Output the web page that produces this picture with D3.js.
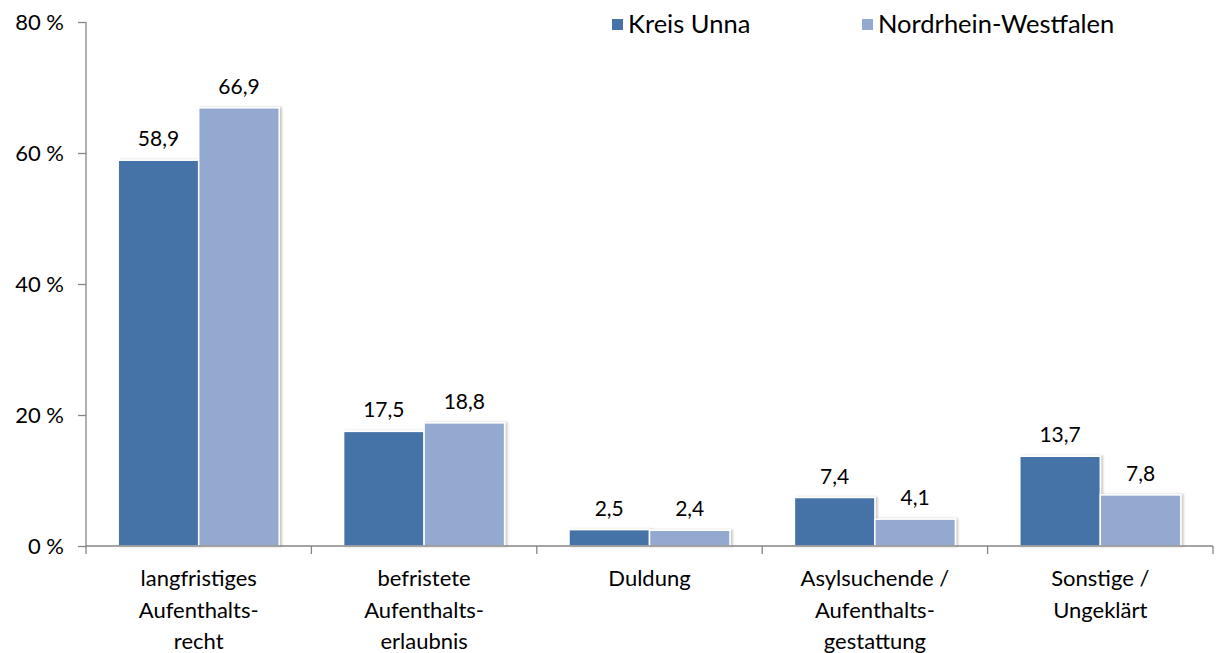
<!DOCTYPE html>
<meta charset="utf-8">
<style>
body { margin: 0; background: #fff; }
text { font-family: Lato, "Open Sans", sans-serif; fill: #000; }
.axis path, .axis line { stroke: #868686; stroke-width: 1.3; }
</style>
<svg width="1219" height="653"></svg>
<script src="https://cdn.jsdelivr.net/npm/d3@7"></script>
<script>

var categories = [
  ["langfristiges", "Aufenthalts-", "recht"],
  ["befristete", "Aufenthalts-", "erlaubnis"],
  ["Duldung"],
  ["Asylsuchende /", "Aufenthalts-", "gestattung"],
  ["Sonstige /", "Ungeklärt"]
];
var series = ["Kreis Unna", "Nordrhein-Westfalen"];
var unna = [58.9, 17.5, 2.5, 7.4, 13.7];
var nrw = [66.9, 18.8, 2.4, 4.1, 7.8];
var yTicks = [0, 20, 40, 60, 80];
var colors = ["#4572a7", "#94a9cf"];

var svg = d3.select("svg");
var mLeft = 86, mRight = 1213, mTop = 22, mBottom = 546;

var defs = svg.append("defs");
var f = defs.append("filter").attr("id", "shadow")
    .attr("x", "-10%").attr("y", "-10%").attr("width", "130%").attr("height", "130%");
f.append("feDropShadow").attr("dx", 2).attr("dy", 0).attr("stdDeviation", 1.2)
    .attr("flood-color", "#000").attr("flood-opacity", 0.22);

var x0 = d3.scaleBand()
    .domain(d3.range(categories.length))
    .range([mLeft, mRight]);

var x1 = d3.scaleBand()
    .domain([0, 1])
    .range([0, x0.bandwidth()])
    .paddingInner(0)
    .paddingOuter(0.4);

var y = d3.scaleLinear().domain([0, 80]).range([mBottom, mTop]);

// y axis
var yAxis = svg.append("g")
    .attr("class", "axis")
    .attr("transform", "translate(" + mLeft + ",0)")
    .call(d3.axisLeft(y).tickValues(yTicks).tickSize(8).tickPadding(14)
      .tickFormat(function(d) { return d + " %"; }));
yAxis.select(".domain").attr("d", "M0," + mTop + "V" + mBottom);
yAxis.selectAll("text").attr("fill", "#000").attr("font-family", null).attr("font-size", null)
    .style("font-size", "22px");

// bars
var data = [];
categories.forEach(function(c, i) {
  data.push({ cat: i, s: 0, v: unna[i] });
  data.push({ cat: i, s: 1, v: nrw[i] });
});

var g = svg.append("g");
g.selectAll("rect")
    .data(data)
  .enter().append("rect")
    .attr("x", function(d) { return x0(d.cat) + x1(d.s); })
    .attr("y", function(d) { return y(d.v); })
    .attr("width", x1.bandwidth())
    .attr("height", function(d) { return y(0) - y(d.v); })
    .attr("fill", function(d) { return colors[d.s]; })
    .attr("stroke", "#fff")
    .attr("stroke-width", 1.5)
    .attr("filter", "url(#shadow)");

g.selectAll("text.val")
    .data(data)
  .enter().append("text")
    .attr("class", "val")
    .attr("x", function(d) { return x0(d.cat) + x1(d.s) + x1.bandwidth() / 2; })
    .attr("y", function(d) { return y(d.v) - 14; })
    .attr("text-anchor", "middle")
    .style("font-size", "21px")
    .text(function(d) { return d3.format(".1f")(d.v).replace(".", ","); });

// x axis
var xAxis = svg.append("g")
    .attr("class", "axis")
    .attr("transform", "translate(0," + mBottom + ")");
xAxis.append("line").attr("x1", mLeft).attr("x2", mRight);
xAxis.selectAll("line.tick")
    .data(d3.range(categories.length + 1))
  .enter().append("line")
    .attr("class", "tick")
    .attr("x1", function(i) { return mLeft + i * x0.step(); })
    .attr("x2", function(i) { return mLeft + i * x0.step(); })
    .attr("y1", 0).attr("y2", 8);

var labels = svg.append("g").selectAll("text")
    .data(categories)
  .enter().append("text")
    .attr("text-anchor", "middle")
    .style("font-size", "22px")
    .attr("transform", function(d, i) { return "translate(" + (x0(i) + x0.bandwidth() / 2) + ",586)"; });
labels.selectAll("tspan")
    .data(function(d) { return d; })
  .enter().append("tspan")
    .attr("x", 0)
    .attr("y", function(d, i) { return i * 31.5; })
    .text(function(d) { return d; });

// legend
var legendX = [612, 862];
var legend = svg.append("g").selectAll("g")
    .data(series)
  .enter().append("g")
    .attr("transform", function(d, i) { return "translate(" + legendX[i] + ",19)"; });
legend.append("rect")
    .attr("width", 11).attr("height", 11)
    .attr("fill", function(d, i) { return colors[i]; });
legend.append("text")
    .attr("x", 16).attr("y", 14)
    .style("font-size", "25.5px")
    .text(function(d) { return d; });

</script>
